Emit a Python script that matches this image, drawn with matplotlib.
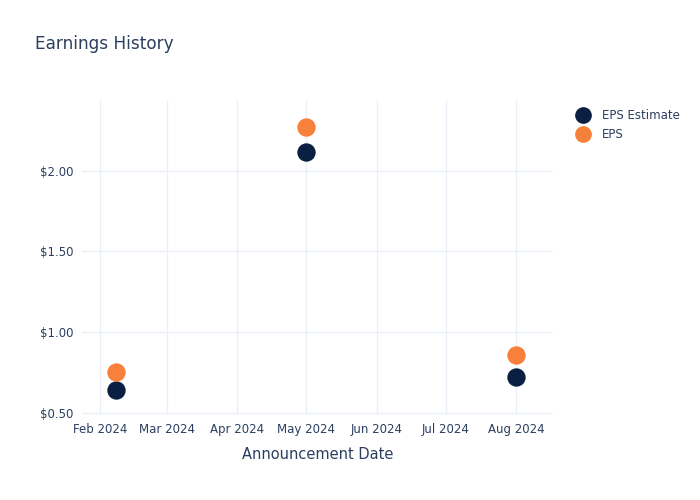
import pandas as pd
import matplotlib.pyplot as plt
import matplotlib.dates as mdates
from matplotlib.ticker import FuncFormatter
from matplotlib.lines import Line2D

dates = pd.to_datetime(["2024-02-08", "2024-05-01", "2024-08-01"])
eps_estimate = [0.64, 2.12, 0.72]
eps_actual = [0.75, 2.27, 0.86]

text_color = "#2a3f5f"
grid_color = "#ebf0f8"
navy = "#0b1f42"
orange = "#f7803a"

fig = plt.figure(figsize=(7, 5), dpi=100)
ax = fig.add_axes([82 / 700, 85 / 500, (553 - 82) / 700, (415 - 100) / 500])

ax.scatter(dates, eps_estimate, s=175, color=navy, zorder=3, linewidths=0)
ax.scatter(dates, eps_actual, s=175, color=orange, zorder=3, linewidths=0)

ax.set_xlim(pd.Timestamp("2024-01-24"), pd.Timestamp("2024-08-17"))
ax.set_ylim(0.485, 2.44)
ax.set_yticks([0.5, 1.0, 1.5, 2.0])
ax.yaxis.set_major_formatter(FuncFormatter(lambda v, p: f"${v:.2f}"))
ax.xaxis.set_major_locator(mdates.MonthLocator(bymonth=range(2, 9)))
ax.xaxis.set_major_formatter(mdates.DateFormatter("%b %Y"))

ax.grid(True, color=grid_color, linewidth=1)
ax.set_axisbelow(True)
for s in ax.spines.values():
    s.set_visible(False)
ax.tick_params(length=0, labelsize=8.5, labelcolor=text_color, pad=6)

ax.set_xlabel("Announcement Date", fontsize=10.5, color=text_color, labelpad=8)
fig.text(35 / 700, 1 - 44 / 500, "Earnings History", fontsize=12.2, color=text_color, va="center")

handles = [
    Line2D([], [], marker="o", linestyle="", markersize=11, color=navy, label="EPS Estimate"),
    Line2D([], [], marker="o", linestyle="", markersize=11, color=orange, label="EPS"),
]
fig.legend(handles=handles, loc="upper left", bbox_to_anchor=(571 / 700, 1 - 104 / 500),
           frameon=False, fontsize=8.5, labelcolor=text_color, handletextpad=1.0,
           labelspacing=0.55, borderaxespad=0, handlelength=1.2)

plt.savefig("out.png")
